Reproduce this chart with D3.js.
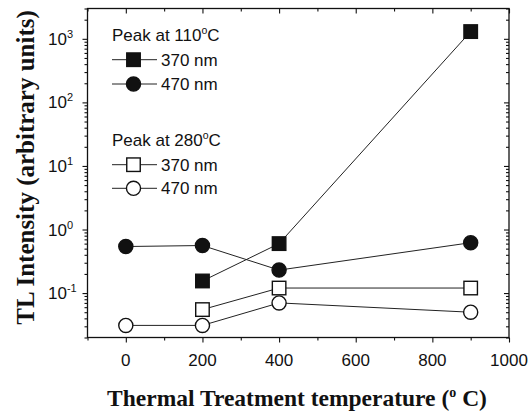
<!DOCTYPE html>
<html>
<head>
<meta charset="utf-8">
<script src="https://cdn.jsdelivr.net/npm/d3@7"></script>
<style>
  html, body { margin: 0; padding: 0; background: #fff; }
  svg { display: block; }
</style>
</head>
<body>
<svg id="chart" width="531" height="417"></svg>
<script>
// Thermal treatment temperatures (°C)
const temperatures = [0, 200, 400, 900];

// TL intensity (arbitrary units); null = not measured
const peak110nm370 = [null, 0.155, 0.6, 1300];
const peak110nm470 = [0.54, 0.56, 0.23, 0.62];
const peak280nm370 = [null, 0.055, 0.12, 0.12];
const peak280nm470 = [0.031, 0.031, 0.07, 0.05];

// Axis ticks
const xMajorTicks = [0, 200, 400, 600, 800, 1000];
const xMinorTicks = [-100, 100, 300, 500, 700, 900];
const yMajorExponents = [-1, 0, 1, 2, 3];

const svg = d3.select("#chart");
const plot = { left: 87.5, right: 509, top: 8.5, bottom: 337.5 };

const x = d3.scaleLinear().domain([-100, 1000]).range([plot.left, plot.right]);
const y = d3.scaleLog().domain([0.02, 3000]).range([plot.bottom, plot.top]);

const sansFont = "'Liberation Sans', Arial, sans-serif";
const serifFont = "'Liberation Serif', 'Times New Roman', serif";

// Minor ticks for log axis: 2..9 of each decade within the domain
const yMinorTicks = [];
for (let e = -2; e <= 3; e++) {
  for (let m = 2; m <= 9; m++) {
    const v = m * Math.pow(10, e);
    if (v >= 0.02 && v <= 3000) yMinorTicks.push(v);
  }
}

// Frame
svg.append("rect")
  .attr("x", plot.left).attr("y", plot.top)
  .attr("width", plot.right - plot.left).attr("height", plot.bottom - plot.top)
  .attr("fill", "none").attr("stroke", "#111").attr("stroke-width", 1.3);

function styleAxis(g) {
  g.select(".domain").remove();
  g.selectAll(".tick line").attr("stroke", "#111").attr("stroke-width", 1.1);
}

// Bottom axis (ticks outward)
svg.append("g").attr("transform", `translate(0,${plot.bottom})`)
  .call(d3.axisBottom(x).tickValues(xMajorTicks).tickSize(5).tickFormat(""))
  .call(styleAxis);
svg.append("g").attr("transform", `translate(0,${plot.bottom})`)
  .call(d3.axisBottom(x).tickValues(xMinorTicks).tickSize(3).tickFormat(""))
  .call(styleAxis);

// Top axis (ticks inward)
svg.append("g").attr("transform", `translate(0,${plot.top})`)
  .call(d3.axisBottom(x).tickValues(xMajorTicks).tickSize(5).tickFormat(""))
  .call(styleAxis);
svg.append("g").attr("transform", `translate(0,${plot.top})`)
  .call(d3.axisBottom(x).tickValues(xMinorTicks).tickSize(3).tickFormat(""))
  .call(styleAxis);

// Left axis (ticks outward)
const yMajorVals = yMajorExponents.map(e => Math.pow(10, e));
svg.append("g").attr("transform", `translate(${plot.left},0)`)
  .call(d3.axisLeft(y).tickValues(yMajorVals).tickSize(5).tickFormat(""))
  .call(styleAxis);
svg.append("g").attr("transform", `translate(${plot.left},0)`)
  .call(d3.axisLeft(y).tickValues(yMinorTicks).tickSize(3).tickFormat(""))
  .call(styleAxis);

// Right axis (ticks inward)
svg.append("g").attr("transform", `translate(${plot.right},0)`)
  .call(d3.axisLeft(y).tickValues(yMajorVals).tickSize(5).tickFormat(""))
  .call(styleAxis);
svg.append("g").attr("transform", `translate(${plot.right},0)`)
  .call(d3.axisLeft(y).tickValues(yMinorTicks).tickSize(3).tickFormat(""))
  .call(styleAxis);

// X tick labels
svg.append("g").selectAll("text").data(xMajorTicks).join("text")
  .attr("x", d => x(d)).attr("y", 366)
  .attr("text-anchor", "middle")
  .attr("font-family", sansFont).attr("font-size", 17)
  .attr("fill", "#111")
  .text(d => d);

// Y tick labels with superscript exponents
const yLab = svg.append("g").selectAll("text").data(yMajorExponents).join("text")
  .attr("x", 48).attr("y", d => y(Math.pow(10, d)) + 6)
  .attr("font-family", sansFont).attr("font-size", 17).attr("fill", "#111");
yLab.append("tspan").text("10");
yLab.append("tspan").attr("dy", -7).attr("font-size", 11).text(d => d);

// Axis titles
const xTitle = svg.append("text")
  .attr("x", 297).attr("y", 406)
  .attr("text-anchor", "middle")
  .attr("font-family", serifFont).attr("font-weight", "bold").attr("font-size", 23.5)
  .attr("fill", "#111");
xTitle.append("tspan").text("Thermal Treatment temperature (");
xTitle.append("tspan").attr("dy", -9).attr("font-size", 14).text("o");
xTitle.append("tspan").attr("dy", 9).text(" C)");

svg.append("text")
  .attr("transform", "translate(34,167.5) rotate(-90)")
  .attr("text-anchor", "middle")
  .attr("font-family", serifFont).attr("font-weight", "bold").attr("font-size", 25)
  .attr("fill", "#111")
  .text("TL Intensity (arbitrary units)");

// Series definitions
const series = [
  { values: peak110nm370, shape: "square", filled: true },
  { values: peak110nm470, shape: "circle", filled: true },
  { values: peak280nm370, shape: "square", filled: false },
  { values: peak280nm470, shape: "circle", filled: false }
];

const line = d3.line()
  .defined(d => d.v != null)
  .x(d => x(d.t)).y(d => y(d.v));

const MS = 13.5; // marker size

function drawMarker(g, cx, cy, s) {
  if (s.shape === "square") {
    g.append("rect")
      .attr("x", cx - MS / 2).attr("y", cy - MS / 2)
      .attr("width", MS).attr("height", MS)
      .attr("fill", s.filled ? "#111" : "#fff")
      .attr("stroke", "#111").attr("stroke-width", 1.4);
  } else {
    g.append("circle")
      .attr("cx", cx).attr("cy", cy).attr("r", MS / 2 + 0.3)
      .attr("fill", s.filled ? "#111" : "#fff")
      .attr("stroke", "#111").attr("stroke-width", 1.4);
  }
}

// Connecting lines
series.forEach(s => {
  const pts = temperatures.map((t, i) => ({ t, v: s.values[i] }));
  svg.append("path").datum(pts)
    .attr("d", line)
    .attr("fill", "none").attr("stroke", "#222").attr("stroke-width", 1);
});

// Markers
const markerLayer = svg.append("g");
series.forEach(s => {
  temperatures.forEach((t, i) => {
    const v = s.values[i];
    if (v == null) return;
    drawMarker(markerLayer, x(t), y(v), s);
  });
});

// Legend
const legend = svg.append("g").attr("font-family", sansFont).attr("fill", "#111");
function legendTitle(yb, label) {
  const t = legend.append("text").attr("x", 112).attr("y", yb).attr("font-size", 17);
  t.append("tspan").text(label);
  t.append("tspan").attr("dy", -7).attr("font-size", 10.5).text("o");
  t.append("tspan").attr("dy", 7).text("C");
}
function legendRow(yb, s, label) {
  const cy = yb - 6;
  legend.append("line")
    .attr("x1", 112).attr("x2", 157).attr("y1", cy).attr("y2", cy)
    .attr("stroke", "#222").attr("stroke-width", 1);
  drawMarker(legend, 133.5, cy, s);
  legend.append("text").attr("x", 161).attr("y", yb).attr("font-size", 17).text(label);
}
legendTitle(40.7, "Peak at 110");
legendRow(65.7, series[0], "370 nm");
legendRow(90, series[1], "470 nm");
legendTitle(145.7, "Peak at 280");
legendRow(170.7, series[2], "370 nm");
legendRow(194.3, series[3], "470 nm");
</script>
</body>
</html>
